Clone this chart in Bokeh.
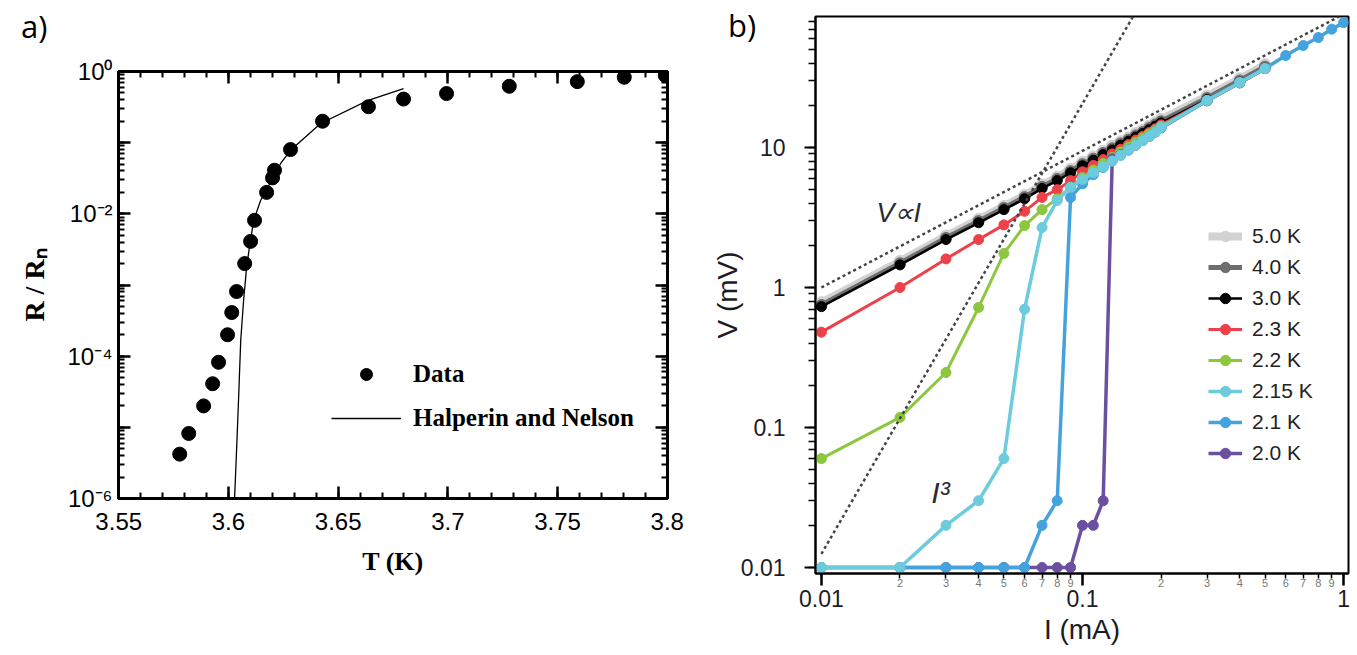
from bokeh.plotting import figure
from bokeh.models import (FixedTicker, LinearAxis, LogAxis, Legend, LegendItem,
                          Label, Range1d, LogTicker, SingleIntervalTicker,
                          CustomJSTickFormatter, Div)
from bokeh.layouts import row
from bokeh.embed import file_html
from bokeh.resources import INLINE

# ---------------- Panel a data ----------------
A_T_DATA = [3.5778, 3.5819, 3.5887, 3.5928, 3.5955, 3.5996, 3.6015, 3.6037,
            3.6074, 3.6101, 3.6119, 3.6174, 3.6201, 3.6210, 3.6283, 3.6429,
            3.6638, 3.6798, 3.6994, 3.7280, 3.7590, 3.7804, 3.7991]
A_R_DATA = [4.2e-6, 8.2e-6, 2.0e-5, 4.1e-5, 8.2e-5, 2.0e-4, 4.1e-4, 8.1e-4,
            2.0e-3, 4.1e-3, 8.1e-3, 0.020, 0.032, 0.041, 0.080, 0.20,
            0.32, 0.41, 0.49, 0.62, 0.72, 0.83, 0.88]
A_T_HN = [3.6028, 3.6037, 3.6046, 3.6056, 3.6069, 3.6083, 3.6097, 3.6115,
          3.6147, 3.6179, 3.6238, 3.6283, 3.6420, 3.6634, 3.6798]
A_R_HN = [1.0e-6, 4.7e-6, 2.4e-5, 1.66e-4, 6.0e-4, 1.8e-3, 3.6e-3, 8.1e-3,
          0.0155, 0.0234, 0.051, 0.078, 0.186, 0.39, 0.575]
A_X_TICKS = [3.55, 3.6, 3.65, 3.7, 3.75, 3.8]
A_X_TICK_LABELS = ["3.55", "3.6", "3.65", "3.7", "3.75", "3.8"]
A_Y_TICKS = [1e-6, 1e-5, 1e-4, 1e-3, 1e-2, 1e-1, 1.0]
A_Y_TICK_LABELS = ["10⁻⁶", "", "10⁻⁴", "", "10⁻²", "", "10⁰"]

# ---------------- Panel b data ----------------
B_I = [0.01, 0.02, 0.03, 0.04, 0.05, 0.06, 0.07, 0.08, 0.09, 0.10, 0.11, 0.12,
       0.13, 0.14, 0.15, 0.16, 0.17, 0.18, 0.19, 0.20, 0.30, 0.40, 0.50]
B_I_TO_1 = B_I + [0.6, 0.7, 0.8, 0.9, 1.0]
B_V_5_0 = [0.78, 1.54, 2.33, 3.07, 3.8, 4.55, 5.4, 6.14, 6.98, 7.83, 8.57, 9.41,
           10.2, 11.0, 11.7, 12.6, 13.3, 14.2, 15.0, 15.9, 23.3, 31.0, 39.0]
B_V_4_0 = [0.75, 1.49, 2.26, 2.98, 3.7, 4.42, 5.24, 5.96, 6.78, 7.6, 8.32, 9.14,
           9.86, 10.7, 11.4, 12.2, 12.9, 13.8, 14.6, 15.4, 22.6, 30.1, 37.8]
B_V_3_0 = [0.73, 1.45, 2.2, 2.9, 3.6, 4.3, 5.1, 5.8, 6.6, 7.4, 8.1, 8.9,
           9.6, 10.4, 11.1, 11.9, 12.6, 13.4, 14.2, 15.0, 22.0, 29.3, 36.8]
B_V_2_3 = [0.48, 1.0, 1.6, 2.2, 2.8, 3.5, 4.4, 5.0, 5.8, 6.7, 7.45, 8.2,
           9.0, 9.7, 10.5, 11.3, 12.0, 12.8, 13.6, 14.5, 21.6, 29.0, 36.7]
B_V_2_2 = [0.06, 0.118, 0.247, 0.72, 1.75, 2.77, 3.6, 4.3, 5.2, 6.1, 6.9, 7.7,
           8.5, 9.3, 10.1, 10.9, 11.7, 12.5, 13.3, 14.2, 21.5, 28.9, 36.6]
B_V_2_15 = [0.01, 0.01, 0.02, 0.03, 0.06, 0.70, 2.68, 4.18, 5.2, 5.9, 6.6, 7.3,
            8.0, 8.8, 9.6, 10.4, 11.2, 12.0, 12.9, 13.9, 21.7, 29.1, 36.7]
B_V_2_1 = [0.01, 0.01, 0.01, 0.01, 0.01, 0.01, 0.02, 0.03, 4.4, 5.5, 6.4, 7.2,
           8.0, 8.8, 9.6, 10.4, 11.2, 12.0, 12.9, 13.9, 21.7, 29.1, 36.7,
           45.4, 53.5, 61.0, 70.0, 78.0]
B_V_2_0 = [0.01, 0.01, 0.01, 0.01, 0.01, 0.01, 0.01, 0.01, 0.01, 0.02, 0.02, 0.03,
           8.3, 8.9, 9.6, 10.4, 11.2, 12.0, 12.9, 13.8, 21.6, 29.0, 36.6]
B_LABELS = ["5.0 K", "4.0 K", "3.0 K", "2.3 K", "2.2 K", "2.15 K", "2.1 K", "2.0 K"]
B_FIT_LIN_I = [0.01, 0.96]
B_FIT_LIN_V = [1.0, 86.0]
B_FIT_CUBE_I = [0.01, 0.156]
B_FIT_CUBE_V = [0.0125, 86.0]
B_Y_TICKS = [0.01, 0.1, 1.0, 10.0]
B_Y_TICK_LABELS = ["0.01", "0.1", "1", "10"]
B_X_TICKS = [0.01, 0.1, 1.0]
B_X_TICK_LABELS = ["0.01", "0.1", "1"]
B_X_MINOR_TICKS = [0.02, 0.03, 0.04, 0.05, 0.06, 0.07, 0.08, 0.09,
                   0.2, 0.3, 0.4, 0.5, 0.6, 0.7, 0.8, 0.9]
B_X_MINOR_LABELS = ["2", "3", "4", "5", "6", "7", "8", "9",
                    "2", "3", "4", "5", "6", "7", "8", "9"]

SANS = "Liberation Sans"
SERIF = "Liberation Serif"
INK = "#1c1c24"
MINOR_COLOR = "black"

LOOKUP = """
for (let i = 0; i < tvals.length; i++) {
  if (Math.abs(tick - tvals[i]) <= 1e-6 * Math.abs(tvals[i])) { return tlabs[i]; }
}
return "";
"""


def lookup_fmt(tv, tl):
    return CustomJSTickFormatter(args=dict(tvals=tv, tlabs=tl), code=LOOKUP)


def blank_fmt():
    return CustomJSTickFormatter(code="return '';")


# ================= Panel a =================
p1 = figure(width=708, height=653, x_range=Range1d(3.5499, 3.8001),
            y_range=Range1d(1e-6, 1.0), y_axis_type="log",
            output_backend="svg", toolbar_location=None,
            min_border_left=118, min_border_right=41,
            min_border_top=71, min_border_bottom=155)
p1.frame_align = False
p1.grid.visible = False
p1.outline_line_color = "black"
p1.outline_line_width = 3


def style_a(ax):
    ax.axis_line_width = 3
    ax.axis_line_color = "black"
    ax.major_tick_in = 12
    ax.major_tick_out = 0
    ax.minor_tick_in = 6
    ax.minor_tick_out = 0
    ax.major_tick_line_width = 2.5
    ax.minor_tick_line_width = 2
    ax.major_tick_line_color = "black"
    ax.minor_tick_line_color = MINOR_COLOR
    ax.major_label_text_font = SANS
    ax.major_label_text_font_size = "24px"
    ax.major_label_text_color = "black"


def xt_a():
    return SingleIntervalTicker(interval=0.05, num_minor_ticks=5)


def yt_a():
    return LogTicker(num_minor_ticks=10, desired_num_ticks=7)


xa = p1.xaxis[0]
xa.ticker = xt_a()
xa.formatter = lookup_fmt(A_X_TICKS, A_X_TICK_LABELS)
style_a(xa)
xa.major_label_standoff = 14
xa.axis_label = "T (K)"
xa.axis_label_text_font = SERIF
xa.axis_label_text_font_style = "bold"
xa.axis_label_text_font_size = "26px"
xa.axis_label_text_color = "black"
xa.axis_label_standoff = 14

ya = p1.yaxis[0]
ya.ticker = yt_a()
ya.formatter = lookup_fmt(A_Y_TICKS, A_Y_TICK_LABELS)
style_a(ya)
ya.major_label_standoff = 6
ya.axis_label = "R / Rₙ"
ya.axis_label_text_font = SERIF
ya.axis_label_text_font_style = "bold"
ya.axis_label_text_font_size = "28px"
ya.axis_label_text_color = "black"
ya.axis_label_standoff = 14

top_a = LinearAxis(ticker=xt_a(), formatter=blank_fmt())
style_a(top_a)
top_a.major_label_text_font_size = "1px"
top_a.major_label_standoff = 0
p1.add_layout(top_a, "above")

right_a = LogAxis(ticker=yt_a(), formatter=blank_fmt())
style_a(right_a)
right_a.major_label_text_font_size = "1px"
right_a.major_label_standoff = 0
p1.add_layout(right_a, "right")

r_hn = p1.line(A_T_HN, A_R_HN, line_color="black", line_width=1.3)
r_data = p1.scatter(A_T_DATA, A_R_DATA, size=14, fill_color="black",
                    line_color="black")

leg_a = Legend(items=[LegendItem(label="Data", renderers=[r_data]),
                      LegendItem(label="Halperin and Nelson", renderers=[r_hn])],
               location=(213, 65), glyph_width=70, glyph_height=30,
               label_height=30, spacing=14, label_standoff=12, padding=0,
               margin=0, border_line_color=None, background_fill_alpha=0,
               label_text_font=SERIF, label_text_font_style="bold",
               label_text_font_size="25px", label_text_color="black")
p1.add_layout(leg_a)

# ================= Panel b =================
p2 = figure(width=648, height=653, x_axis_type="log", y_axis_type="log",
            x_range=Range1d(0.009494, 1.044), y_range=Range1d(0.00906, 86.25),
            output_backend="svg", toolbar_location=None,
            min_border_left=96, min_border_right=8,
            min_border_top=16, min_border_bottom=80)
p2.frame_align = False
p2.grid.visible = False
p2.outline_line_color = "black"
p2.outline_line_width = 2

yb = p2.yaxis[0]
yb.ticker = LogTicker(num_minor_ticks=10)
yb.formatter = lookup_fmt(B_Y_TICKS, B_Y_TICK_LABELS)
yb.axis_line_width = 2
yb.major_tick_out = 11
yb.major_tick_in = 0
yb.minor_tick_out = 7
yb.minor_tick_in = 0
yb.major_tick_line_width = 2
yb.minor_tick_line_width = 1.5
yb.minor_tick_line_color = MINOR_COLOR
yb.major_label_text_font = SANS
yb.major_label_text_font_size = "23px"
yb.major_label_text_color = INK
yb.major_label_standoff = 19
yb.axis_label = "V (mV)"
yb.axis_label_text_font = SANS
yb.axis_label_text_font_style = "normal"
yb.axis_label_text_font_size = "28px"
yb.axis_label_text_color = INK
yb.axis_label_standoff = -5

# x axis, layer 1: the ticks (decades long, 2..9 short)
xb1 = p2.xaxis[0]
xb1.ticker = LogTicker(num_minor_ticks=10)
xb1.formatter = blank_fmt()
xb1.axis_line_width = 2
xb1.major_tick_out = 12
xb1.major_tick_in = 0
xb1.minor_tick_out = 5
xb1.minor_tick_in = 0
xb1.major_tick_line_width = 2.5
xb1.minor_tick_line_width = 1.5
xb1.minor_tick_line_color = MINOR_COLOR
xb1.major_label_text_font_size = "1px"
xb1.major_label_standoff = 0

# layer 2: small 2..9 labels
xb2 = LogAxis(ticker=FixedTicker(ticks=B_X_MINOR_TICKS),
              formatter=lookup_fmt(B_X_MINOR_TICKS, B_X_MINOR_LABELS))
xb2.axis_line_color = None
xb2.major_tick_line_color = None
xb2.minor_tick_line_color = None
xb2.major_tick_out = 0
xb2.major_tick_in = 0
xb2.minor_tick_out = 0
xb2.major_label_text_font = SANS
xb2.major_label_text_font_size = "11px"
xb2.major_label_text_color = "#777777"
xb2.major_label_standoff = -7
p2.add_layout(xb2, "below")

# layer 3: decade labels and axis title
xb3 = LogAxis(ticker=FixedTicker(ticks=B_X_TICKS),
              formatter=lookup_fmt(B_X_TICKS, B_X_TICK_LABELS))
xb3.axis_line_color = None
xb3.major_tick_line_color = None
xb3.minor_tick_line_color = None
xb3.major_tick_out = 0
xb3.major_tick_in = 0
xb3.minor_tick_out = 0
xb3.major_label_text_font = SANS
xb3.major_label_text_font_size = "23px"
xb3.major_label_text_color = INK
xb3.major_label_standoff = 0
xb3.axis_label = "I (mA)"
xb3.axis_label_text_font = SANS
xb3.axis_label_text_font_style = "normal"
xb3.axis_label_text_font_size = "28px"
xb3.axis_label_text_color = INK
xb3.axis_label_standoff = 4
p2.add_layout(xb3, "below")

STYLE = {
    "5.0 K": dict(color="#d2d2d2", lw=8, size=12),
    "4.0 K": dict(color="#6e6e6e", lw=5, size=11),
    "3.0 K": dict(color="#000000", lw=2.5, size=10),
    "2.3 K": dict(color="#ee4049", lw=3, size=10),
    "2.2 K": dict(color="#8dc63f", lw=3, size=10),
    "2.15 K": dict(color="#6ccbdd", lw=3.5, size=10),
    "2.1 K": dict(color="#44a3dd", lw=3.5, size=10),
    "2.0 K": dict(color="#6b4fa0", lw=3.5, size=10),
}
SERIES = {
    "5.0 K": (B_I, B_V_5_0),
    "4.0 K": (B_I, B_V_4_0),
    "3.0 K": (B_I, B_V_3_0),
    "2.3 K": (B_I, B_V_2_3),
    "2.2 K": (B_I, B_V_2_2),
    "2.15 K": (B_I, B_V_2_15),
    "2.1 K": (B_I_TO_1, B_V_2_1),
    "2.0 K": (B_I, B_V_2_0),
}
DRAW_ORDER = ["5.0 K", "4.0 K", "3.0 K", "2.3 K", "2.2 K", "2.0 K", "2.1 K", "2.15 K"]
rends = {}
for lab in DRAW_ORDER:
    xs, ys = SERIES[lab]
    st = STYLE[lab]
    rl = p2.line(xs, ys, line_color=st["color"], line_width=st["lw"])
    rs = p2.scatter(xs, ys, size=st["size"], fill_color=st["color"],
                    line_color=st["color"])
    rends[lab] = [rl, rs]

DOT = "#444444"
p2.line(B_FIT_LIN_I, B_FIT_LIN_V, line_color=DOT, line_width=2.5, line_dash="3 3")
p2.line(B_FIT_CUBE_I, B_FIT_CUBE_V, line_color=DOT, line_width=2.5, line_dash="3 3")

leg_b = Legend(items=[LegendItem(label=lab, renderers=rends[lab]) for lab in B_LABELS],
               location=(393, 107), glyph_width=34, glyph_height=26,
               label_height=26, spacing=5, label_standoff=10, padding=0,
               margin=0, border_line_color=None, background_fill_alpha=0,
               label_text_font=SANS, label_text_font_size="21px",
               label_text_color="#222222")
p2.add_layout(leg_b)

p2.add_layout(Label(x=0.01625, y=3.43, text="V∝I", text_font=SANS,
                    text_font_style="italic", text_font_size="27px",
                    text_color="#2a2a33", text_baseline="alphabetic"))
p2.add_layout(Label(x=0.02636, y=0.0343, text="I³", text_font=SANS,
                    text_font_style="italic", text_font_size="30px",
                    text_color="#2a2a33", text_baseline="alphabetic"))

div_a = Div(text="a)", width=44, height=40,
            styles={"position": "absolute", "left": "16px", "top": "6px",
                    "font-family": "Open Sans", "font-size": "31px",
                    "line-height": "1", "color": "black"})
div_b = Div(text="b)", width=44, height=40,
            styles={"position": "absolute", "left": "723px", "top": "5px",
                    "font-family": "Open Sans", "font-size": "31px",
                    "line-height": "1", "color": "black"})

layout = row(p1, p2, div_a, div_b)
open("out.html", "w").write(file_html(layout, INLINE))
